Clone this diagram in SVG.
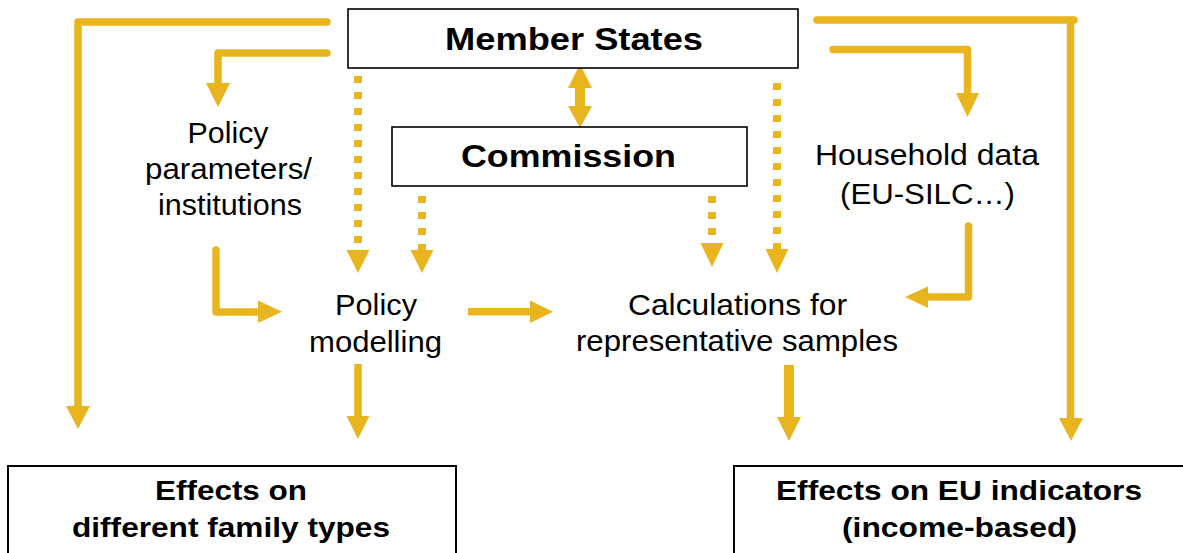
<svg xmlns="http://www.w3.org/2000/svg" width="1183" height="553" viewBox="0 0 1183 553">
<style>
.box{fill:#fff;stroke:#000;stroke-width:2}
.bt{font-family:"Liberation Sans",Arial,sans-serif;font-weight:bold;fill:#000;text-anchor:middle}
.rt{font-family:"Liberation Sans",Arial,sans-serif;fill:#000;text-anchor:middle;font-size:29px}
.ln{fill:none;stroke:#E8B51E;stroke-width:7.5;stroke-linejoin:round}
.rc{stroke-linecap:round}
.dt{fill:none;stroke:#E8B51E;stroke-width:8;stroke-dasharray:7 9}
.hd{fill:#E8B51E}
</style>
<rect width="1183" height="553" fill="#fff"/>
<g id="connectors">
  <path class="ln rc" d="M327,22 H78 V408"/>
  <polygon class="hd" points="66,406 90,406 78,429"/>
  <path class="ln rc" d="M327,53 H218 V86"/>
  <polygon class="hd" points="206,83 230,83 218,107"/>
  <path class="ln rc" d="M817,20 H1074"/>
  <path class="ln" d="M1070.5,20 V420"/>
  <polygon class="hd" points="1059,418 1083,418 1071,441"/>
  <path class="ln rc" d="M833,49.5 H967.5 V96"/>
  <polygon class="hd" points="956,93 979,93 967.5,117"/>
  <rect class="hd" x="575" y="86" width="10" height="22"/>
  <polygon class="hd" points="580,64 592,88 568,88"/>
  <polygon class="hd" points="568,106 592,106 580,128"/>
  <path class="dt" d="M358,76 V250"/>
  <polygon class="hd" points="346.5,250 369.5,250 358,273"/>
  <path class="dt" d="M422,196 V250"/>
  <polygon class="hd" points="410.5,250 433.5,250 422,273"/>
  <path class="dt" d="M712,196 V243"/>
  <polygon class="hd" points="700.5,243 723.5,243 712,267"/>
  <path class="dt" d="M777,83 V249"/>
  <polygon class="hd" points="765.5,249 788.5,249 777,273"/>
  <path class="ln rc" d="M216,250 V312 H260"/>
  <polygon class="hd" points="258,300.5 258,323 282,311.7"/>
  <path class="ln" d="M468,311.7 H532"/>
  <polygon class="hd" points="530,300.5 530,323 553,311.7"/>
  <path class="ln" d="M358,364 V418"/>
  <polygon class="hd" points="346.5,416 369.5,416 358,439"/>
  <path class="ln" style="stroke-width:10" d="M789,365 V419"/>
  <polygon class="hd" points="777,417 801,417 789,441"/>
  <path class="ln rc" d="M968.5,226 V297 H930"/>
  <polygon class="hd" points="928,286.5 928,308 905,297"/>
</g>
<g id="member-states">
  <rect class="box" style="stroke-width:1.6" x="348" y="9" width="450" height="59"/>
  <text class="bt" x="574" y="50" font-size="32" textLength="258" lengthAdjust="spacingAndGlyphs">Member States</text>
</g>
<g id="commission">
  <rect class="box" style="stroke-width:1.6" x="392" y="127" width="355" height="59"/>
  <text class="bt" x="568.5" y="167" font-size="32" textLength="215" lengthAdjust="spacingAndGlyphs">Commission</text>
</g>
<g id="policy-parameters">
  <text class="rt" x="228" y="143" textLength="81" lengthAdjust="spacingAndGlyphs">Policy</text>
  <text class="rt" x="228.5" y="179" textLength="167" lengthAdjust="spacingAndGlyphs">parameters/</text>
  <text class="rt" x="230" y="215" textLength="144" lengthAdjust="spacingAndGlyphs">institutions</text>
</g>
<g id="household-data">
  <text class="rt" x="927" y="165" textLength="224" lengthAdjust="spacingAndGlyphs">Household data</text>
  <text class="rt" x="927.5" y="204" textLength="175" lengthAdjust="spacingAndGlyphs">(EU-SILC…)</text>
</g>
<g id="policy-modelling">
  <text class="rt" x="376" y="315" textLength="82" lengthAdjust="spacingAndGlyphs">Policy</text>
  <text class="rt" x="375.5" y="352" textLength="133" lengthAdjust="spacingAndGlyphs">modelling</text>
</g>
<g id="calculations">
  <text class="rt" x="737.5" y="315" textLength="219" lengthAdjust="spacingAndGlyphs">Calculations for</text>
  <text class="rt" x="737" y="351" textLength="322" lengthAdjust="spacingAndGlyphs">representative samples</text>
</g>
<g id="effects-family">
  <rect class="box" x="8" y="466" width="448" height="110"/>
  <text class="bt" x="231" y="500" font-size="28" textLength="152" lengthAdjust="spacingAndGlyphs">Effects on</text>
  <text class="bt" x="231" y="537" font-size="28" textLength="318" lengthAdjust="spacingAndGlyphs">different family types</text>
</g>
<g id="effects-eu">
  <rect class="box" x="734" y="466" width="470" height="110"/>
  <text class="bt" x="959" y="500" font-size="28" textLength="366" lengthAdjust="spacingAndGlyphs">Effects on EU indicators</text>
  <text class="bt" x="959.5" y="537" font-size="28" textLength="235" lengthAdjust="spacingAndGlyphs">(income-based)</text>
</g>
</svg>
